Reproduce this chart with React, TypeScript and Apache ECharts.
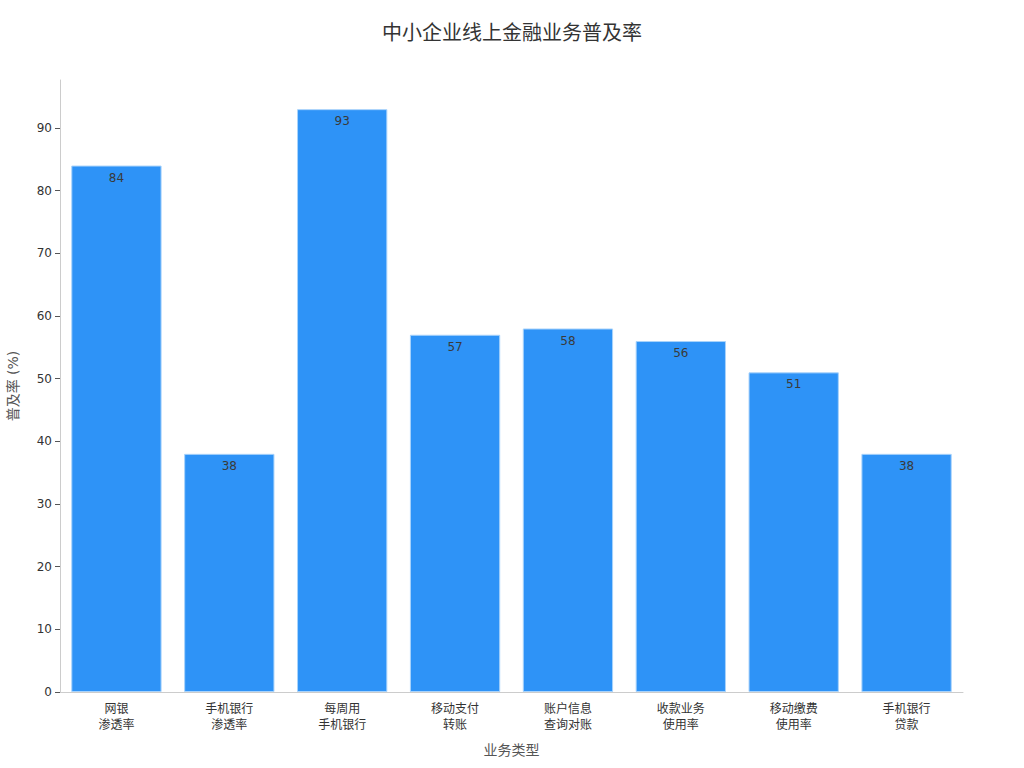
import { useEffect, useRef } from 'react';
import * as echarts from 'echarts';

const categories = [
  '网银\n渗透率',
  '手机银行\n渗透率',
  '每周用\n手机银行',
  '移动支付\n转账',
  '账户信息\n查询对账',
  '收款业务\n使用率',
  '移动缴费\n使用率',
  '手机银行\n贷款',
];
const rates = [84, 38, 93, 57, 58, 56, 51, 38];
const yTicks = [0, 10, 20, 30, 40, 50, 60, 70, 80, 90];

const FONT = '"DejaVu Sans", "Noto Sans CJK SC", sans-serif';

export default function App() {
  const chartRef = useRef<HTMLDivElement>(null);

  useEffect(() => {
    if (!chartRef.current) return;
    const chart = echarts.init(chartRef.current, null, { renderer: 'svg' });

    chart.setOption({
      animation: false,
      backgroundColor: '#ffffff',
      textStyle: { fontFamily: FONT },
      title: {
        text: '中小企业线上金融业务普及率',
        left: 'center',
        top: 18,
        textStyle: { fontFamily: FONT, fontSize: 20, fontWeight: 'normal', color: '#333333' },
      },
      grid: {
        left: 60,
        right: 61,
        top: 80,
        bottom: 76,
        containLabel: false,
        outerBoundsMode: 'none',
      },
      xAxis: {
        type: 'category',
        data: categories,
        name: '业务类型',
        nameLocation: 'middle',
        nameGap: 51,
        nameTextStyle: { fontFamily: FONT, fontSize: 14, color: '#555555' },
        axisLine: { lineStyle: { color: '#cccccc', width: 1 } },
        axisTick: { alignWithLabel: true, length: 5, lineStyle: { color: '#555555' } },
        axisLabel: { color: '#333333', fontSize: 12, lineHeight: 16, margin: 9, interval: 0 },
      },
      yAxis: {
        type: 'value',
        min: 0,
        max: 97.65,
        interval: 10,
        name: '普及率 (%)',
        nameLocation: 'middle',
        nameGap: 40,
        nameRotate: 90,
        nameTextStyle: { fontFamily: FONT, fontSize: 14, color: '#555555' },
        axisLine: { show: true, lineStyle: { color: '#cccccc', width: 1 } },
        axisTick: { show: true, length: 5, customValues: yTicks, lineStyle: { color: '#555555' } },
        axisLabel: { color: '#333333', fontSize: 12, margin: 8, customValues: yTicks },
        splitLine: { show: false },
      },
      series: [
        {
          type: 'bar',
          data: rates,
          barCategoryGap: '20%',
          itemStyle: { color: '#2e93f7', borderColor: '#a9d3fb', borderWidth: 1 },
          label: {
            show: true,
            position: 'insideTop',
            distance: 6,
            color: '#3a3a3a',
            fontSize: 12,
            fontFamily: FONT,
          },
        },
      ],
    });

    return () => {
      chart.dispose();
    };
  }, []);

  // pinned to the page corner so the chart covers the full 1024x768 frame
  return (
    <div
      ref={chartRef}
      style={{ position: 'absolute', left: 0, top: 0, width: 1024, height: 768 }}
    />
  );
}
